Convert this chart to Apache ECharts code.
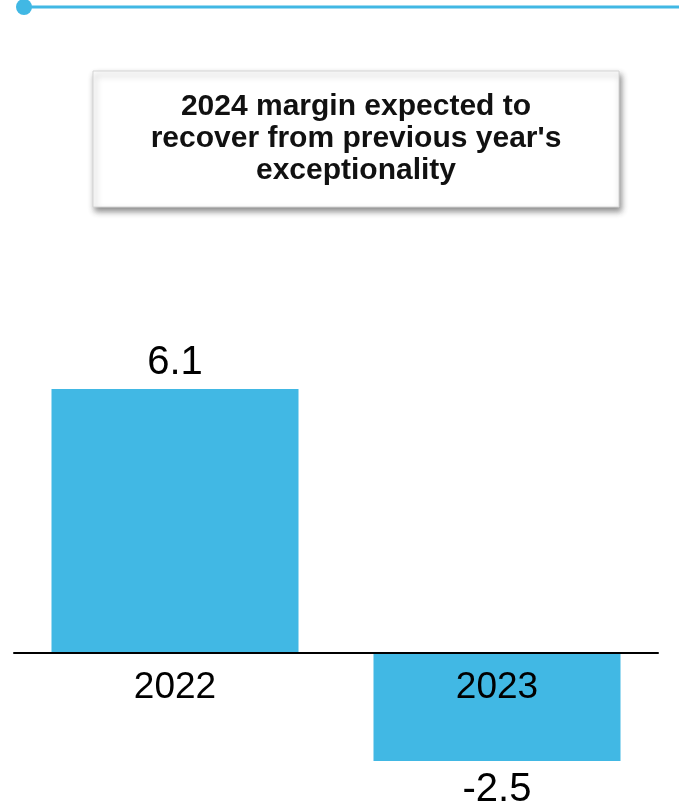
<!DOCTYPE html>
<html>
<head>
<meta charset="utf-8">
<script src="https://cdn.jsdelivr.net/npm/echarts@6/dist/echarts.min.js"></script>
<style>
html,body{margin:0;padding:0;background:#fff;}
#chart{width:679px;height:808px;}
</style>
</head>
<body>
<div id="chart"></div>
<script>
const categories = ['2022', '2023'];
const values = [6.1, -2.5];
const titleLines = ['2024 margin expected to', "recover from previous year's", 'exceptionality'];

const barColor = '#41B8E4';
const chart = echarts.init(document.getElementById('chart'), null, {renderer: 'canvas'});

const option = {
  animation: false,
  backgroundColor: '#ffffff',
  grid: {left: 14, right: 21, top: 389, height: 372, containLabel: false},
  xAxis: {
    type: 'category',
    data: categories,
    z: 10,
    position: 'bottom',
    offset: -108,
    axisLine: {show: true, onZero: false, lineStyle: {color: '#000', width: 2}},
    axisTick: {show: false},
    axisLabel: {color: '#000', fontSize: 37, fontFamily: 'Liberation Sans, Arial, sans-serif', margin: 16}
  },
  yAxis: {
    type: 'value',
    min: -2.5,
    max: 6.1,
    show: false,
    splitLine: {show: false}
  },
  series: [{
    type: 'bar',
    barWidth: 247,
    itemStyle: {color: barColor},
    data: values.map(v => ({
      value: v,
      label: {position: v >= 0 ? 'top' : 'bottom', distance: v >= 0 ? 6 : 9}
    })),
    label: {
      show: true,
      color: '#000',
      fontSize: 40,
      fontFamily: 'Liberation Sans, Arial, sans-serif',
      formatter: p => String(p.value)
    }
  }],
  graphic: [
    {type: 'line', shape: {x1: 24, y1: 7, x2: 679, y2: 7}, style: {stroke: barColor, lineWidth: 3}},
    {type: 'circle', shape: {cx: 24, cy: 7, r: 8}, style: {fill: barColor}},
    {type: 'rect', shape: {x: 93, y: 71, width: 526, height: 136},
      style: {fill: '#fff', stroke: '#d4d4d4', lineWidth: 1, shadowBlur: 6, shadowOffsetX: 2, shadowOffsetY: 4, shadowColor: 'rgba(0,0,0,0.45)'}},
    {type: 'text', x: 356, y: 139,
      style: {text: titleLines.join('\n'), fill: '#111', font: 'bold 30px "Liberation Sans", Arial, sans-serif',
        textAlign: 'center', textVerticalAlign: 'middle', lineHeight: 32}}
  ]
};
chart.setOption(option);
</script>
</body>
</html>
